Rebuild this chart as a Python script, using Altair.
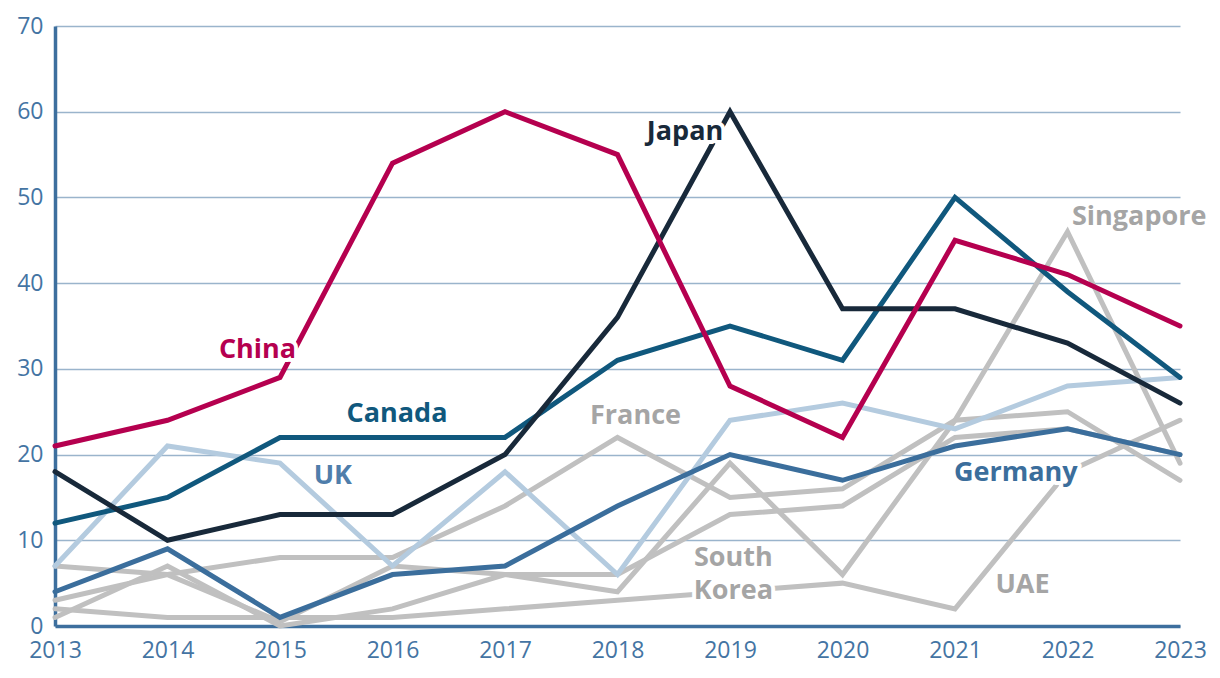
import altair as alt
import pandas as pd

years = list(range(2013, 2024))

# Highlighted series
china = [21, 24, 29, 54, 60, 55, 28, 22, 45, 41, 35]
japan = [18, 10, 13, 13, 20, 36, 60, 37, 37, 33, 26]
canada = [12, 15, 22, 22, 22, 31, 35, 31, 50, 39, 29]
uk = [7, 21, 19, 7, 18, 6, 24, 26, 23, 28, 29]
germany = [4, 9, 1, 6, 7, 14, 20, 17, 21, 23, 20]

# Grey series
france = [7, 6, 8, 8, 14, 22, 15, 16, 24, 25, 17]
singapore = [3, 6, 0.5, 7, 6, 4, 19, 6, 24, 46, 19]
south_korea = [1, 7, 0, 2, 6, 6, 13, 14, 22, 23, 20]
uae = [2, 1, 1, 1, 2, 3, 4, 5, 2, 18, 24]

GREY_LINE = "#c0c0c0"
GREY_TEXT = "#a5a5a5"
AXIS_BLUE = "#3d6f9e"

series = [
    ("France", france, GREY_LINE),
    ("Singapore", singapore, GREY_LINE),
    ("South Korea", south_korea, GREY_LINE),
    ("UAE", uae, GREY_LINE),
    ("UK", uk, "#b4cbdf"),
    ("Germany", germany, "#3b6e9c"),
    ("Canada", canada, "#10587d"),
    ("Japan", japan, "#18293a"),
    ("China", china, "#b5004f"),
]

# Annotation labels (text, year position, value position, colour)
label_text = ["China", "Canada", "UK", "France", "Japan", "South", "Korea", "UAE", "Germany"]
label_x = [2014.8, 2016.04, 2015.47, 2018.16, 2018.6, 2019.03, 2019.03, 2021.6, 2021.54]
label_y = [32.2, 24.7, 17.5, 24.5, 57.6, 7.9, 4.1, 4.8, 17.9]
label_color = ["#b5004f", "#10587d", "#4f7eab", GREY_TEXT, "#18293a", GREY_TEXT, GREY_TEXT, GREY_TEXT, "#3b6e9c"]

left_text = ["Singapore"]
left_x = [2022.04]
left_y = [47.7]
left_color = [GREY_TEXT]

FONT = "Open Sans"

x_enc = alt.X(
    "year:Q",
    scale=alt.Scale(domain=[2013, 2023], nice=False, zero=False),
    axis=alt.Axis(
        values=years, format="d", title=None, grid=False, ticks=False,
        domainColor=AXIS_BLUE, domainWidth=3.5,
        labelFont=FONT, labelFontSize=23, labelFontWeight=400, labelColor="#4474a3",
        labelPadding=13, labelFlush=False, labelOverlap=False,
    ),
)
y_enc = alt.Y(
    "value:Q",
    scale=alt.Scale(domain=[0, 70], nice=False),
    axis=alt.Axis(
        values=list(range(0, 80, 10)), title=None, grid=True, ticks=False,
        gridColor="#9ab4cc", gridWidth=1.6,
        domainColor=AXIS_BLUE, domainWidth=3.5,
        labelFont=FONT, labelFontSize=23, labelFontWeight=400, labelColor="#4474a3",
        labelPadding=12, labelFlush=False, labelOverlap=False,
    ),
)

layers = []
for name, vals, col in series:
    df = pd.DataFrame({"year": years, "value": vals, "country": name})
    layers.append(
        alt.Chart(df).mark_line(color=col, strokeWidth=5, strokeCap="round", strokeJoin="miter")
        .encode(x=x_enc, y=y_enc, detail="country:N")
    )

lab_df = pd.DataFrame({"text": label_text, "year": label_x, "value": label_y, "color": label_color})
left_df = pd.DataFrame({"text": left_text, "year": left_x, "value": left_y, "color": left_color})

for df, align in ((lab_df, "center"), (left_df, "left")):
    halo = alt.Chart(df).mark_text(
        font=FONT, fontSize=27, fontWeight="bold", align=align, baseline="middle",
        stroke="white", strokeWidth=8, strokeJoin="round", fill="white",
    ).encode(x=alt.X("year:Q"), y=alt.Y("value:Q"), text="text:N")
    txt = alt.Chart(df).mark_text(
        font=FONT, fontSize=27, fontWeight="bold", align=align, baseline="middle",
    ).encode(x=alt.X("year:Q"), y=alt.Y("value:Q"), text="text:N",
             color=alt.Color("color:N", scale=None))
    layers.append(halo)
    layers.append(txt)

chart = alt.layer(*layers).properties(
    width=1125,
    height=600,
    autosize=alt.AutoSizeParams(type="none"),
    padding={"left": 47, "top": 18, "right": 30, "bottom": 40},
    background="white",
).configure_view(stroke=None)

chart.save("out.html", embed_options={"renderer": "svg", "actions": False})
